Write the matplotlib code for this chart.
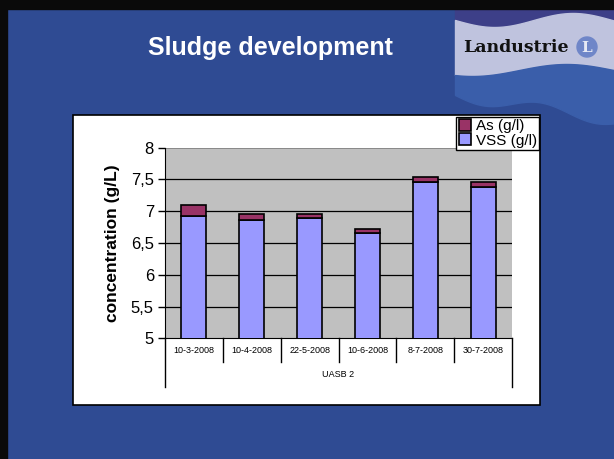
import matplotlib
matplotlib.use("Agg")
import matplotlib.pyplot as plt
import numpy as np
from matplotlib.patches import Rectangle, Circle

categories = ["10-3-2008", "10-4-2008", "22-5-2008", "10-6-2008", "8-7-2008", "30-7-2008"]
group_label = "UASB 2"
vss = [6.92, 6.86, 6.895, 6.66, 7.455, 7.38]
as_ = [0.18, 0.09, 0.055, 0.06, 0.085, 0.08]
yticks = [5, 5.5, 6, 6.5, 7, 7.5, 8]
ytick_labels = ["5", "5,5", "6", "6,5", "7", "7,5", "8"]

W, H = 614, 459
fig = plt.figure(figsize=(W / 100, H / 100), dpi=100)
fig.patch.set_facecolor("#2f4b93")

# background axes in pixel coords
bg = fig.add_axes([0, 0, 1, 1])
bg.set_xlim(0, W)
bg.set_ylim(H, 0)
bg.axis("off")
bg.add_patch(Rectangle((0, 0), W, H, color="#2f4b93", zorder=0))
# logo area
xs = np.linspace(455, W, 200)
top_wave = 20 + 7 * np.sin((xs - 455) / 25.0)
bot_wave = 70 + 6 * np.sin((xs - 455) / 30.0 + 1.0)
bg.fill_between(xs, 9, top_wave, color="#3d3f88", zorder=1)
bg.fill_between(xs, top_wave, bot_wave, color="#bfc3de", zorder=1)
low = 95 + 25 * (xs - 455) / (W - 455) + 6 * np.sin((xs - 455) / 18.0)
bg.fill_between(xs, bot_wave, low, color="#3a5eaa", zorder=1)
bg.text(463, 48, "Landustrie", fontsize=12.5, fontweight="bold", family="DejaVu Serif",
        color="#111111", va="center", ha="left", zorder=2)
bg.add_patch(Circle((587, 47), 10, color="#6f86c8", zorder=2))
bg.text(587, 48, "L", fontsize=11, fontweight="bold", family="DejaVu Serif",
        color="#e6e9f5", va="center", ha="center", zorder=3)
# black frame bands
bg.add_patch(Rectangle((0, 0), W, 9, color="#0a0a0a", zorder=4))
bg.add_patch(Rectangle((0, 0), 7, H, color="#0a0a0a", zorder=4))
# title
bg.text(270, 48, "Sludge development", fontsize=18, fontweight="bold",
        family="Liberation Sans", color="white", va="center", ha="center", zorder=5)
# white chart box
bg.add_patch(Rectangle((73, 115), 467, 290, facecolor="white", edgecolor="black",
                       lw=1.2, zorder=5))

# chart axes
ax = fig.add_axes([165 / W, 1 - 338.3 / H, (512 - 165) / W, (338.3 - 147.7) / H])
ax.set_facecolor("#c0c0c0")
x = np.arange(len(categories))
bw = 0.43
b1 = ax.bar(x, vss, width=bw, color="#9999ff", edgecolor="black", lw=1.2, zorder=3,
            label="VSS (g/l)")
b2 = ax.bar(x, as_, bottom=vss, width=bw, color="#993366", edgecolor="black", lw=1.2,
            zorder=3, label="As (g/l)")
ax.set_ylim(5, 8)
ax.set_xlim(-0.5, len(categories) - 0.5)
ax.set_yticks(yticks)
ax.set_yticklabels(ytick_labels, fontsize=12, family="Liberation Sans")
for yv in yticks[1:-1]:
    ax.axhline(yv, color="black", lw=0.9, zorder=1)
ax.axhline(8, color="#808080", lw=1.2, zorder=1)
for s in ["top", "right"]:
    ax.spines[s].set_visible(False)
ax.spines["left"].set_color("black")
ax.spines["bottom"].set_color("black")
ax.tick_params(axis="y", direction="out", length=5, width=1, pad=3)
ax.tick_params(axis="x", length=0, labelbottom=False)
ax.set_ylabel("concentration (g/L)", fontsize=12.5, fontweight="bold",
              family="Liberation Sans", labelpad=8)

# two-level category axis
trans = ax.get_xaxis_transform()
ph = 338.3 - 147.7
lvl1 = -(362 - 338.3) / ph
lvl2 = -(387 - 338.3) / ph
for i in range(1, len(categories)):
    ax.plot([i - 0.5, i - 0.5], [0, lvl1], transform=trans, color="black", lw=1,
            clip_on=False)
for xe in [-0.5, len(categories) - 0.5]:
    ax.plot([xe, xe], [0, lvl2], transform=trans, color="black", lw=1, clip_on=False)
for i, c in enumerate(categories):
    ax.text(i, lvl1 / 2, c, transform=trans, fontsize=6.5, ha="center", va="center",
            family="Liberation Sans")
ax.text((len(categories) - 1) / 2, (lvl1 + lvl2) / 2, group_label, transform=trans,
        fontsize=6.5, ha="center", va="center", family="Liberation Sans")

leg = fig.legend(handles=[b2, b1], labels=["As (g/l)", "VSS (g/l)"],
                 loc="upper right", bbox_to_anchor=(539 / W, 1 - 117 / H),
                 prop={"family": "Liberation Sans", "size": 11},
                 frameon=True, fancybox=False, edgecolor="black", framealpha=1,
                 borderpad=0.15, handlelength=0.8, handleheight=0.8,
                 handletextpad=0.3, labelspacing=0.0, borderaxespad=0)
leg.get_frame().set_linewidth(1)

fig.savefig("out.png", dpi=100)
